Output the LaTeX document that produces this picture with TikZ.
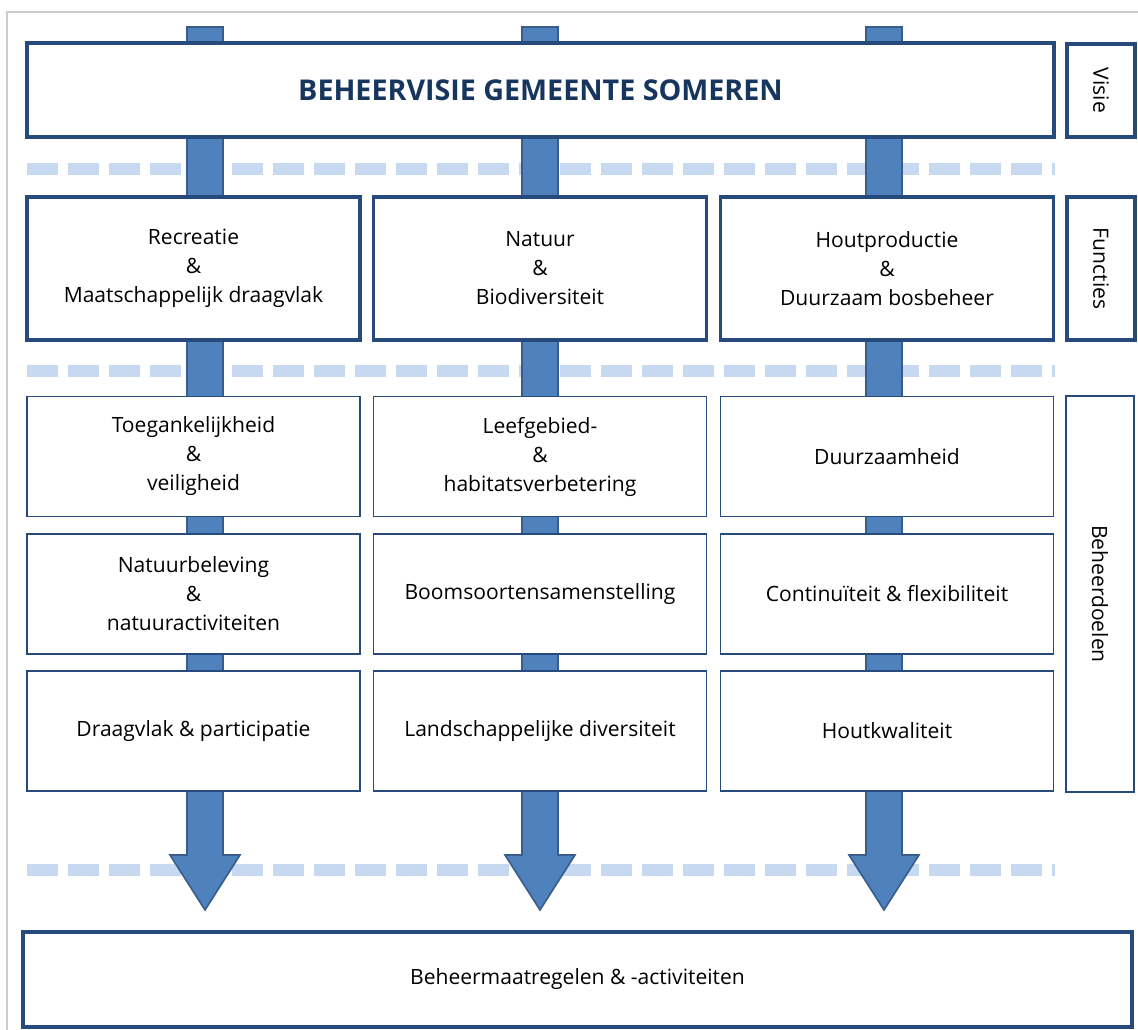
\documentclass[tikz,border=0pt]{standalone}
\usepackage{fontspec}
\setmainfont{Open Sans}
\definecolor{rand}{RGB}{38,74,124}
\definecolor{pijl}{RGB}{79,129,189}
\definecolor{pijlrand}{RGB}{56,93,138}
\definecolor{streep}{RGB}{198,217,240}
\definecolor{titel}{RGB}{23,54,93}
\begin{document}
\begin{tikzpicture}[x=0.75pt,y=0.75pt,yscale=-1,xscale=1,
	kader/.style={draw=rand,line width=2.6pt,fill=white,inner sep=0pt,outer sep=0pt,align=center,font=\fontsize{15.8}{21.75}\selectfont},
	doel/.style={kader,line width=1.1pt},
	functie/.style={kader,minimum width=249.75pt,minimum height=107.25pt},
	rij/.style={doel,minimum width=249.75pt,minimum height=90pt},
	zij/.style={kader,rotate=-90},
	streeplijn/.style={draw=streep,line width=9pt,dash pattern=on 23.25pt off 7.5pt}]
	\useasboundingbox (0,0) rectangle (1138,1030);
	\draw [black!20,line width=0.9pt] (7,12) rectangle (1160,1060);
	% stippellijnen tussen de lagen
	\foreach \y in {169,371,870}
		\draw [streeplijn] (27,\y) -- (1055,\y);
	% blokpijlen
	\foreach \x in {205,540,884}
		\draw [draw=pijlrand,fill=pijl,line width=1.2pt] (\x-18,27) -- (\x+18,27) -- (\x+18,855) -- (\x+35,855) -- (\x,910) -- (\x-35,855) -- (\x-18,855) -- cycle;
	% visie
	\node [kader,minimum width=770.25pt,minimum height=70.5pt,text=titel,font=\fontsize{21.5}{25}\selectfont\bfseries] (visie) at (540.5,90) {BEHEERVISIE GEMEENTE SOMEREN};
	\node [zij,minimum width=69.75pt,minimum height=51pt] (lvisie) at (1101,90.5) {Visie};
	% functies
	\node [functie] (recreatie) at (193.5,268.5) {Recreatie\\\&\\Maatschappelijk draagvlak};
	\node [functie] (natuur) at (540,268.5) {Natuur\\\&\\Biodiversiteit};
	\node [functie] (hout) at (887,268.5) {Houtproductie\\\&\\Duurzaam bosbeheer};
	\node [zij,minimum width=107.25pt,minimum height=51pt] (lfuncties) at (1101,268.5) {Functies};
	% beheerdoelen
	\node [rij] (toegang) at (193.5,456.5) {Toegankelijkheid\\\&\\veiligheid};
	\node [rij] (leefgebied) at (540,456.5) {Leefgebied-\\\&\\habitatsverbetering};
	\node [rij] (duurzaam) at (887,456.5) {Duurzaamheid};
	\node [rij] (beleving) at (193.5,594) {Natuurbeleving\\\&\\natuuractiviteiten};
	\node [rij] (boomsoort) at (540,594) {Boomsoortensamenstelling};
	\node [rij] (continu) at (887,594) {Continuïteit \& flexibiliteit};
	\node [rij] (draagvlak) at (193.5,731) {Draagvlak \& participatie};
	\node [rij] (landschap) at (540,731) {Landschappelijke diversiteit};
	\node [rij] (kwaliteit) at (887,731) {Houtkwaliteit};
	\node [doel,rotate=-90,minimum width=297pt,minimum height=51pt] (ldoelen) at (1100,594) {Beheerdoelen};
	% maatregelen
	\node [kader,minimum width=831.75pt,minimum height=71.25pt] (maatregel) at (577.5,979.5) {Beheermaatregelen \& -activiteiten};
\end{tikzpicture}
\end{document}
